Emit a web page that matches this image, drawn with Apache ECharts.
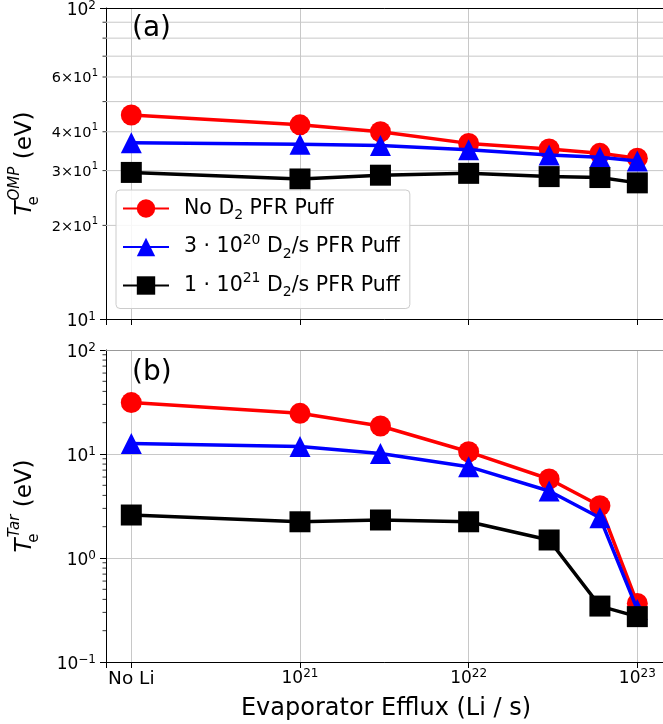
<!DOCTYPE html>
<html><head><meta charset="utf-8">
<script src="https://cdn.jsdelivr.net/npm/echarts@6/dist/echarts.min.js"></script>
<style>html,body{margin:0;padding:0;background:#fff}#c{width:663px;height:724px}</style>
</head><body><div id="c"></div>
<script>
// ---- data ----
const efflux = [1e20, 1e21, 3e21, 1e22, 3e22, 6e22, 1e23]; // 1e20 stands for "No Li"
const noLiExponent = 20;
const seriesNames = ['No D2 PFR Puff', '3e20 D2/s PFR Puff', '1e21 D2/s PFR Puff'];
const omp_noPuff   = [45.3, 42.1, 40.0, 36.7, 35.2, 34.1, 32.9];
const omp_puff3e20 = [36.9, 36.5, 36.1, 35.0, 33.7, 33.1, 32.2];
const omp_puff1e21 = [29.6, 28.2, 29.0, 29.4, 28.7, 28.5, 27.4];
const tar_noPuff   = [31.2, 24.6, 18.6, 10.5, 5.75, 3.18, 0.366];
const tar_puff3e20 = [12.6, 11.8, 10.1, 7.55, 4.41, 2.44, 0.32];
const tar_puff1e21 = [2.59, 2.23, 2.32, 2.23, 1.49, 0.345, 0.273];
const ompMinorTicks = [20, 30, 40, 50, 60, 70, 80, 90];
const ompMinorLabels = {20: '2', 30: '3', 40: '4', 60: '6'};
const tarMinorTicks = [0.2,0.3,0.4,0.5,0.6,0.7,0.8,0.9, 2,3,4,5,6,7,8,9, 20,30,40,50,60,70,80,90];
const xMin = Math.pow(10, 19.85), xMax = Math.pow(10, 23.17);

// ---- styling ----
const FF = 'DejaVu Sans';
const colors = ['#ff0000', '#0000ff', '#000000'];
const symbols = ['circle', 'triangle', 'rect'];
const gridColor = '#c8c8c8';
const tickRich = {
  b: {fontSize: 17, fontFamily: FF, color: '#000', lineHeight: 22},
  n: {fontSize: 18.5, fontFamily: FF, color: '#000', lineHeight: 22},
  s: {fontSize: 12, fontFamily: FF, color: '#000', verticalAlign: 'top', lineHeight: 12}
};
function expLabel(v) {
  const e = Math.log10(v), r = Math.round(e);
  if (Math.abs(e - r) > 1e-6) return '';
  return '{b|10}{s|' + (r < 0 ? '\u2212' + (-r) : r) + '}';
}
function xLabel(v) {
  const e = Math.log10(v), r = Math.round(e);
  if (Math.abs(e - r) > 1e-6) return '';
  if (r === noLiExponent) return '{n|No Li}';
  return '{b|10}{s|' + r + '}';
}
function minorRender(labels, drawGrid) {
  return function (params, api) {
    const cs = params.coordSys;
    const v = api.value(1);
    const y = api.coord([api.value(0), v])[1];
    const ch = [];
    if (drawGrid) ch.push({type: 'line', shape: {x1: cs.x, y1: y, x2: cs.x + cs.width, y2: y},
      style: {stroke: gridColor, lineWidth: 1}});
    ch.push({type: 'line', shape: {x1: cs.x - 3.5, y1: y, x2: cs.x, y2: y}, style: {stroke: '#000', lineWidth: 0.8}});
    if (labels && labels[v]) {
      ch.push({type: 'text', x: cs.x - 8, y: y - 4,
        style: {text: '1', font: '10px "DejaVu Sans"', fill: '#000', align: 'right', verticalAlign: 'middle'}});
      ch.push({type: 'text', x: cs.x - 14.5, y: y + 1.5,
        style: {text: labels[v] + '\u00d710', font: '14.5px "DejaVu Sans"', fill: '#000', align: 'right', verticalAlign: 'middle'}});
    }
    return {type: 'group', children: ch};
  };
}
const nameRich = {
  t: {fontSize: 23, fontFamily: FF, fontStyle: 'italic', color: '#000', lineHeight: 34},
  e: {fontSize: 15, fontFamily: FF, color: '#000', verticalAlign: 'bottom', lineHeight: 15, width: 1},
  o: {fontSize: 15, fontFamily: FF, fontStyle: 'italic', color: '#000', verticalAlign: 'top', lineHeight: 15},
  n: {fontSize: 23, fontFamily: FF, color: '#000', lineHeight: 34}
};
const legendRich = {
  sub: {fontSize: 14, fontFamily: FF, color: '#000', verticalAlign: 'bottom', lineHeight: 14},
  sup: {fontSize: 14, fontFamily: FF, color: '#000', verticalAlign: 'top', lineHeight: 14},
  t: {fontSize: 20.5, fontFamily: FF, color: '#000', lineHeight: 28}
};
const legendText = {};
legendText[seriesNames[0]] = '{t|No D}{sub|2}{t| PFR Puff}';
legendText[seriesNames[1]] = '{t|3 \u00b7 10}{sup|20}{t| D}{sub|2}{t|/s PFR Puff}';
legendText[seriesNames[2]] = '{t|1 \u00b7 10}{sup|21}{t| D}{sub|2}{t|/s PFR Puff}';

function lineSeries(i, vals, axisIdx) {
  return {
    type: 'line', name: seriesNames[i], xAxisIndex: axisIdx, yAxisIndex: axisIdx,
    data: efflux.map((x, k) => [x, vals[k]]),
    symbol: symbols[i], symbolSize: 21, z: 3 + i,
    lineStyle: {color: colors[i], width: 3.5}, itemStyle: {color: colors[i]},
    animation: false
  };
}
const commonX = {
  type: 'log', logBase: 10, min: xMin, max: xMax,
  axisLine: {show: true, lineStyle: {color: '#000', width: 1}},
  axisTick: {show: true, length: 6, inside: false, lineStyle: {color: '#000'}},
  splitLine: {show: true, showMinLine: false, showMaxLine: false, lineStyle: {color: gridColor, width: 1}},
  minorTick: {show: false}
};
const yLabelStyle = {formatter: expLabel, rich: tickRich, margin: 10, padding: [6, 0, 0, 0]};
const chart = echarts.init(document.getElementById('c'), null, {renderer: 'canvas'});
chart.setOption({
  animation: false,
  backgroundColor: '#fff',
  grid: [
    {left: 106, top: 8, right: -3, height: 311, show: false, outerBoundsMode: 'none', containLabel: false},
    {left: 106, top: 350, right: -3, height: 312, show: false, outerBoundsMode: 'none', containLabel: false}
  ],
  title: [
    {text: '(a)', left: 132, top: 15, padding: 0, textStyle: {fontSize: 28, fontWeight: 'normal', fontFamily: FF, color: '#000'}},
    {text: '(b)', left: 132, top: 359, padding: 0, textStyle: {fontSize: 28, fontWeight: 'normal', fontFamily: FF, color: '#000'}}
  ],
  legend: {
    data: seriesNames, orient: 'vertical', left: 116, top: 190,
    padding: [8, 10, 9, 6], itemGap: 10.5, itemWidth: 46, itemHeight: 23,
    backgroundColor: 'rgba(255,255,255,0.85)', borderColor: '#cccccc', borderWidth: 1, borderRadius: 4,
    formatter: n => legendText[n],
    textStyle: {fontSize: 20.5, fontFamily: FF, color: '#000', rich: legendRich, padding: [0, 0, 0, 10]},
    selectedMode: false, z: 20
  },
  xAxis: [
    Object.assign({gridIndex: 0, axisLabel: {show: false}}, commonX),
    Object.assign({gridIndex: 1, axisLabel: {show: true, margin: 6, formatter: xLabel, rich: tickRich, hideOverlap: false},
      name: 'Evaporator Efflux (Li / s)', nameLocation: 'middle', nameGap: 35,
      nameTextStyle: {fontSize: 24, fontFamily: FF, color: '#000'}}, commonX),
    {gridIndex: 0, type: 'log', min: xMin, max: xMax, position: 'top', z: 5,
      axisLine: {show: true, lineStyle: {color: '#000', width: 1}}, axisTick: {show: false}, axisLabel: {show: false}, splitLine: {show: false}},
    {gridIndex: 1, type: 'log', min: xMin, max: xMax, position: 'top', z: 5,
      axisLine: {show: true, lineStyle: {color: '#999', width: 1}}, axisTick: {show: false}, axisLabel: {show: false}, splitLine: {show: false}}
  ],
  yAxis: [
    {gridIndex: 0, type: 'log', logBase: 10, min: 10, max: 100,
      axisLine: {show: true, lineStyle: {color: '#000'}},
      axisTick: {show: true, length: 6, lineStyle: {color: '#000'}},
      axisLabel: yLabelStyle,
      splitLine: {show: true, lineStyle: {color: gridColor}},
      name: '{t|T}{e|e}{o|OMP}{n| (eV)}', nameLocation: 'middle', nameGap: 64, nameRotate: 90,
      nameTextStyle: {rich: nameRich}},
    {gridIndex: 1, type: 'log', logBase: 10, min: 0.1, max: 100,
      axisLine: {show: true, lineStyle: {color: '#000'}},
      axisTick: {show: true, length: 6, lineStyle: {color: '#000'}},
      axisLabel: yLabelStyle,
      splitLine: {show: true, lineStyle: {color: gridColor}},
      name: '{t|T}{e|e}{o|Tar}{n| (eV)}', nameLocation: 'middle', nameGap: 64, nameRotate: 90,
      nameTextStyle: {rich: nameRich}}
  ],
  series: [
    {type: 'custom', xAxisIndex: 0, yAxisIndex: 0, z: 1, clip: false, silent: true,
      data: ompMinorTicks.map(v => [efflux[1], v]), renderItem: minorRender(ompMinorLabels, true)},
    {type: 'custom', xAxisIndex: 1, yAxisIndex: 1, z: 1, clip: false, silent: true,
      data: tarMinorTicks.map(v => [efflux[1], v]), renderItem: minorRender(null, false)},
    lineSeries(0, omp_noPuff, 0), lineSeries(1, omp_puff3e20, 0), lineSeries(2, omp_puff1e21, 0),
    lineSeries(0, tar_noPuff, 1), lineSeries(1, tar_puff3e20, 1), lineSeries(2, tar_puff1e21, 1)
  ]
});
</script></body></html>
